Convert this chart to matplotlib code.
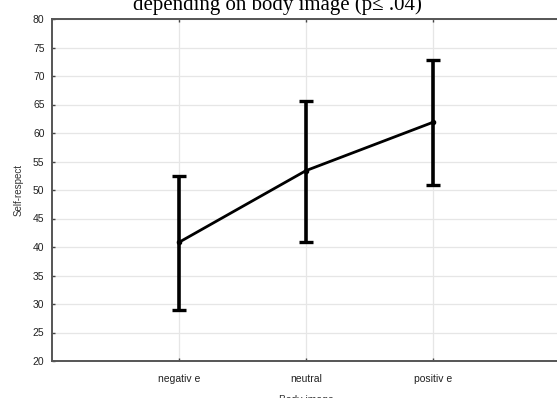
import matplotlib.pyplot as plt

plt.rcParams["font.family"] = ["Liberation Sans", "DejaVu Sans"]

# body image groups and self-respect means with error bar ends
groups = ["negativ e", "neutral", "positiv e"]
means = [40.8, 53.4, 61.9]
upper = [52.5, 65.7, 72.8]
lower = [29.0, 40.9, 50.9]

yticks = list(range(20, 85, 5))

fig = plt.figure(figsize=(5.57, 3.98), dpi=100)
# axes run past the right edge, like the cropped original
ax = fig.add_axes([51.5 / 557, 1 - 361 / 398, 509 / 557, 342 / 398])

x = list(range(1, len(groups) + 1))
err = [[m - lo for m, lo in zip(means, lower)],
       [up - m for m, up in zip(means, upper)]]

ax.errorbar(x, means, yerr=err, color="black", lw=2.0, elinewidth=2.6,
            capsize=5.2, capthick=2.4, marker="o", markersize=3, zorder=3)

ax.set_xlim(0, 4)
ax.set_ylim(20, 80)
ax.set_xticks(x)
ax.set_xticklabels(groups)
ax.set_yticks(yticks)
ax.grid(True, color="#e6e6e6", lw=0.9)
ax.set_axisbelow(True)

for s in ax.spines.values():
    s.set_color("#555555")
    s.set_linewidth(1.4)

ax.tick_params(direction="in", length=2.5, width=1, color="#444444",
               labelsize=7.5, labelcolor="#222222", top=True, right=True)
ax.tick_params(axis="x", pad=9)
ax.tick_params(axis="y", pad=5)

ax.set_ylabel("Self-respect", fontsize=7, color="#333333", labelpad=7)
ax.set_xlabel("Body image", fontsize=7.5, color="#333333", labelpad=8)

fig.text(277 / 557, 1 - 10 / 398, "depending on body image (p\u2264 .04)",
         family=["Liberation Serif", "DejaVu Serif"], fontsize=15,
         ha="center", va="baseline")

fig.savefig("out.png", dpi=100)
